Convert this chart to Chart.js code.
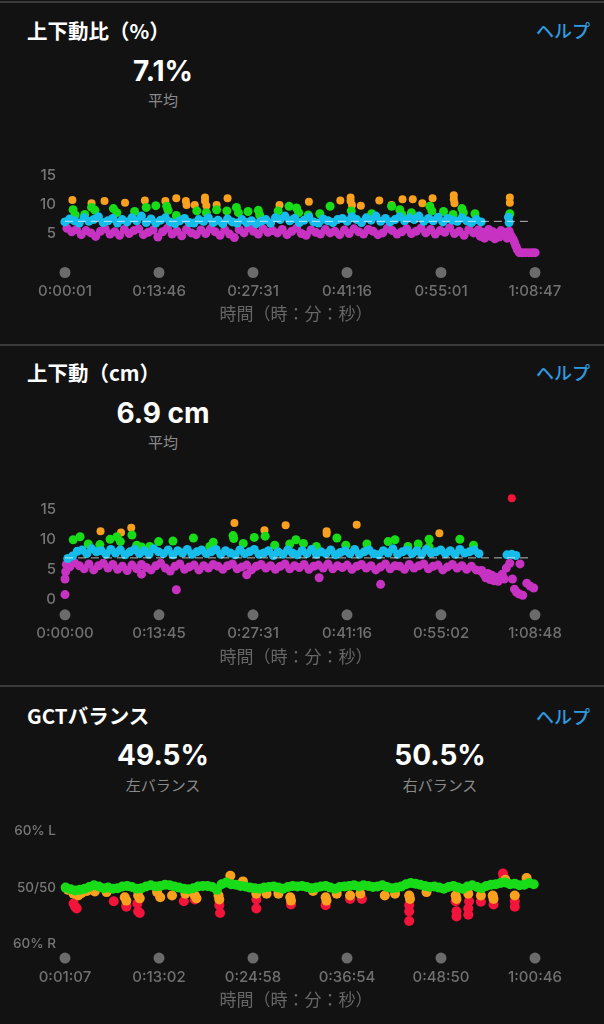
<!DOCTYPE html>
<html>
<head>
<meta charset="utf-8">
<script src="https://cdn.jsdelivr.net/npm/chart.js@4"></script>
<style>
  body { margin: 0; background: #121212; width: 604px; height: 1024px; position: relative; overflow: hidden;
         font-family: "Noto Sans CJK JP", sans-serif; }
  .sep { position: absolute; left: 0; width: 604px; height: 2px; background: #3a3a3a; }
  .title { position: absolute; left: 27px; transform: translateY(-50%); color: #fff; font-size: 20.5px; font-weight: 700; white-space: nowrap; }
  .help { position: absolute; right: 14px; transform: translateY(-50%); color: #2f9be0; font-size: 18px; font-weight: 500; }
  .big { position: absolute; transform: translate(-50%, -50%); color: #fff; font-family: Inter, sans-serif; font-size: 28px; font-weight: 700; white-space: nowrap; }
  .sub { position: absolute; transform: translate(-50%, -50%); color: #8a8a8a; font-size: 15px; white-space: nowrap; }
  .axt { position: absolute; left: 296px; transform: translate(-50%, -50%); color: #666; font-size: 17px; white-space: nowrap; }
  canvas { position: absolute; left: 0; }
</style>
</head>
<body>
<div class="sep" style="top:1px"></div>
<div class="sep" style="top:344px"></div>
<div class="sep" style="top:685px"></div>

<div class="title" style="top:30px">上下動比（%）</div>
<div class="help" style="top:30px">ヘルプ</div>
<div class="big" style="left:163px;top:71px">7.1%</div>
<div class="sub" style="left:163px;top:99px">平均</div>
<canvas id="chart-ratio" width="604" height="180" style="top:150px"></canvas>
<div class="axt" style="top:312px">時間（時：分：秒）</div>

<div class="title" style="top:372px">上下動（cm）</div>
<div class="help" style="top:372px">ヘルプ</div>
<div class="big" style="left:163px;top:413px">6.9 cm</div>
<div class="sub" style="left:163px;top:441px">平均</div>
<canvas id="chart-osc" width="604" height="200" style="top:470px"></canvas>
<div class="axt" style="top:655px">時間（時：分：秒）</div>

<div class="title" style="top:715px">GCTバランス</div>
<div class="help" style="top:716px">ヘルプ</div>
<div class="big" style="left:163px;top:755px">49.5%</div>
<div class="sub" style="left:163px;top:784px">左バランス</div>
<div class="big" style="left:440px;top:755px">50.5%</div>
<div class="sub" style="left:440px;top:784px">右バランス</div>
<canvas id="chart-gct" width="604" height="200" style="top:810px"></canvas>
<div class="axt" style="top:998px">時間（時：分：秒）</div>

<script>
// x values are minutes into the run

// --- 上下動比 (%) ---
const ratioTicks = ['0:00:01', '0:13:46', '0:27:31', '0:41:16', '0:55:01', '1:08:47'];
const ratioAvg = 7.1;
const ratioStep = 0.7;
const ratioCyan = [
  7.0,7.5,7.2,6.8,7.7,7.1,7.4,7.9,6.9,7.2,7.6,6.8,7.4,7.0,7.7,
  7.2,8.0,6.9,7.5,6.8,7.3,7.7,7.0,6.7,7.2,7.6,6.9,6.8,7.4,
  7.1,7.7,6.9,7.3,6.7,7.5,7.0,6.8,7.4,6.9,7.2,6.7,7.1,7.4,6.8,
  7.7,7.4,8.0,7.2,7.6,6.9,7.3,7.8,7.0,6.8,7.5,7.2,6.9,7.4,
  7.6,7.1,7.9,7.4,6.9,7.7,7.3,8.0,7.1,7.6,7.0,7.4,7.9,7.2,7.7,
  7.4,8.0,7.1,7.6,7.2,7.8,7.0,7.6,7.3,7.1,7.7,7.2,6.9,7.4,7.0
];
const ratioCyanExtra = [[64.9, 7.8], [65.0, 6.9]];
const ratioMagenta = [
  5.9,5.3,5.7,4.8,5.5,5.1,4.5,5.4,5.8,4.9,5.3,4.7,5.7,5.0,5.5,
  5.8,4.8,5.2,5.6,4.4,5.3,5.9,4.9,5.4,4.6,5.7,5.1,4.8,5.6,
  5.0,5.8,5.3,4.7,5.6,4.9,4.3,5.7,5.1,6.0,5.4,4.9,5.8,5.2,5.5,
  5.1,5.7,4.8,5.4,5.9,5.0,4.7,5.6,5.2,4.9,5.7,5.1,5.4,4.8,
  5.6,5.0,5.8,5.3,4.9,5.7,5.4,4.8,5.1,5.9,5.5,4.9,5.3,5.8,5.0,
  5.4,5.9,5.1,5.7,4.9,5.5,5.2,6.0,5.0,5.4,4.7,5.7,5.1,5.6
];
const ratioMagentaTail = [
  [60.5,5.6],[60.8,4.5],[61.1,5.2],[61.4,4.2],[61.7,5.0],[62.0,5.7],[62.3,4.5],[62.6,5.3],
  [62.9,4.1],[63.2,5.0],[63.5,4.4],[63.8,5.5],[64.1,4.7],[64.4,5.2],[64.7,4.2],[65.0,5.4],
  [65.3,4.6],[65.6,4.0],[65.8,3.4],[66.0,2.8],[66.2,2.2],[66.5,1.7],[66.9,1.7],[67.4,1.7],
  [67.9,1.7],[68.4,1.7],[68.8,1.7]
];
const ratioGreen = [
  [1.2,9.1],[1.5,8.2],[2.9,8.3],[3.9,9.5],[4.4,9.0],[7.1,9.3],[7.6,8.6],[10.2,8.8],[11.9,9.5],
  [13.3,9.8],[14.9,9.7],[15.1,9.0],[16.3,8.1],[19.3,8.9],[20.7,8.6],[22.2,9.1],[23.7,8.9],
  [25.1,9.5],[25.4,8.6],[26.8,8.8],[28.3,9.0],[28.5,8.2],[31.2,8.9],[32.8,9.7],[33.9,9.4],
  [34.2,8.6],[35.6,8.2],[37.3,8.4],[38.8,9.7],[41.9,8.9],[44.9,8.4],[47.8,9.7],[49.0,9.1],
  [49.3,8.3],[50.7,8.6],[53.4,9.7],[53.7,8.9],[55.4,8.8],[56.8,8.3],[58.1,9.3],[58.3,8.6],
  [60.0,8.4],[65.1,8.4]
];
const ratioOrange = [
  [1.1,10.8],[3.9,10.2],[5.8,10.6],[8.8,10.3],[11.7,10.7],[14.7,10.6],[16.3,11.1],[17.7,10.6],
  [17.8,9.9],[19.0,9.9],[20.5,11.2],[20.5,10.6],[20.7,9.8],[22.2,9.9],[23.8,11.1],[31.4,9.9],
  [35.7,10.5],[40.3,10.7],[41.8,11.2],[41.8,10.6],[42.0,9.9],[43.3,9.8],[46.0,10.7],[47.8,9.9],
  [49.4,10.9],[50.9,10.9],[52.3,10.2],[53.8,11.1],[56.9,11.6],[56.9,10.9],[57.0,10.2],
  [65.1,11.2],[65.1,10.3]
];

// --- 上下動 (cm) ---
const oscTicks = ['0:00:00', '0:13:45', '0:27:31', '0:41:16', '0:55:02', '1:08:48'];
const oscAvg = 6.9;
const oscStep = 0.7;
const oscCyan = [
  6.8,7.2,8.0,8.2,7.6,8.4,7.9,8.1,7.5,8.3,7.7,8.2,7.4,7.9,8.3,
  7.6,8.1,7.5,8.4,7.9,7.6,8.2,7.4,8.1,7.7,8.3,7.5,7.9,8.2,
  7.6,7.9,8.3,7.5,8.1,7.7,7.4,8.2,7.6,7.9,8.3,7.5,7.7,8.1,7.3,
  7.9,7.5,8.2,7.7,7.4,8.1,7.6,8.3,7.5,7.9,7.6,8.2,7.4,7.8,
  8.1,7.6,8.3,7.5,7.9,8.2,7.6,7.4,8.1,7.7,8.4,7.5,7.9,8.2,7.6,
  8.1,7.5,8.3,7.7,7.9,8.2,7.6,8.1,7.5,8.3,7.7,7.9,8.2,7.6
];
const oscCyanExtra = [[64.7, 7.4], [65.4, 7.5], [66.0, 7.3]];
const oscMagenta = [
  5.4,6.1,5.6,5.1,5.9,4.9,5.6,6.0,5.2,5.8,5.0,5.5,4.8,5.7,5.1,
  5.8,5.3,4.9,5.6,6.0,5.2,4.7,5.5,5.9,5.0,5.4,5.7,4.9,5.6,
  5.2,5.8,5.5,5.0,5.6,5.9,5.1,5.4,5.7,4.9,5.5,5.8,5.2,5.6,5.0,
  5.5,5.9,5.1,5.6,5.3,5.8,5.0,5.5,5.7,5.2,5.9,5.1,5.6,5.3,
  5.7,5.0,5.5,5.8,5.2,5.6,4.9,5.4,5.9,5.1,5.6,5.5,5.0,5.8,5.2,
  5.6,5.9,5.1,5.5,5.7,4.9,5.4,5.8,5.2,5.6,5.0,5.5,4.9,4.7
];
const oscMagentaExtra = [
  [0.0,0.8],[0.0,3.4],[0.1,4.6],[0.2,5.8],[11.2,4.2],[16.3,1.6],[26.6,4.1],[37.2,3.6],[46.2,2.5],
  [61.0,4.8],[61.3,4.2],[61.6,3.6],[61.9,4.3],[62.2,3.3],[62.5,4.0],[62.8,3.1],[63.1,3.7],
  [63.4,3.0],[63.7,3.6],[64.0,4.2],[64.3,3.4],[64.6,5.2],[65.1,6.0],[66.6,5.9],[65.5,3.4],
  [65.8,1.7],[66.1,1.2],[66.5,0.9],[67.0,0.7],[67.6,2.7],[68.1,2.2],[68.6,1.9]
];
const oscGreen = [
  [1.2,9.9],[2.2,10.4],[3.4,9.2],[5.1,9.1],[6.6,10.0],[7.6,10.4],[8.1,9.6],[9.8,10.7],[10.5,9.0],
  [11.2,8.7],[12.4,8.8],[13.7,9.6],[15.8,9.7],[18.8,10.2],[21.2,8.8],[21.7,9.5],[24.6,10.6],
  [24.7,10.1],[26.1,9.3],[27.7,10.3],[29.3,10.5],[30.7,9.0],[32.9,9.2],[33.8,9.9],[34.9,9.3],
  [36.8,8.8],[39.8,10.2],[41.1,9.0],[44.2,9.2],[47.3,9.6],[48.3,9.9],[50.2,8.8],[51.7,9.2],
  [53.3,10.0],[53.3,8.7],[57.8,10.0],[59.8,9.0]
];
const oscOrange = [
  [5.2,11.3],[8.2,11.1],[9.7,11.9],[24.8,12.7],[29.2,11.5],[32.3,12.3],[38.3,11.3],[38.3,10.9],
  [42.7,12.4],[54.8,11.0]
];
const oscRed = [[65.4, 16.8]];

// --- GCTバランス (left %) ---
const gctTicks = ['0:01:07', '0:13:02', '0:24:58', '0:36:54', '0:48:50', '1:00:46'];
const gctYTicks = [40, 50, 60];
const gctYLabels = ['60% R', '50/50', '60% L'];
const gctStep = 0.6;
const gctGreen = [
  50.0,49.7,49.5,49.6,49.8,50.1,50.4,50.2,49.9,50.0,
  49.8,49.9,50.2,50.3,50.1,49.8,49.9,50.2,50.4,50.2,
  50.3,50.5,50.4,50.2,50.0,49.8,49.7,49.9,50.2,50.3,
  50.3,50.1,49.6,50.6,50.9,50.6,50.5,50.3,50.2,50.0,
  49.9,49.8,50.0,50.1,50.2,50.0,49.8,50.1,50.3,50.2,
  50.3,50.1,49.9,50.0,50.2,50.3,50.0,49.8,50.1,50.2,
  50.3,50.4,50.2,50.4,50.3,50.1,50.2,50.4,50.1,49.9,
  50.0,50.2,50.6,50.8,50.7,50.5,50.3,50.1,50.2,50.0,
  49.8,50.1,50.3,50.0,49.8,50.2,50.4,50.1,49.9,50.3,
  50.5,50.6,50.8,50.9,50.6,50.7,50.4,50.5,50.8,50.6
];
const gctOrange = [
  [1.5,49.6],[2.2,48.9],[2.8,48.6],[3.2,49.0],[3.9,49.4],[4.9,49.3],[6.4,49.2],[8.7,48.3],
  [8.9,47.7],[10.4,48.6],[10.6,48.1],[12.8,49.2],[13.2,48.3],[14.7,48.6],[16.4,48.9],[17.6,48.6],
  [17.8,48.1],[20.6,48.6],[20.7,47.9],[22.1,52.1],[23.7,51.1],[25.4,48.9],[26.7,48.9],[28.2,48.9],
  [29.7,48.3],[29.8,47.7],[32.6,49.4],[34.2,48.3],[34.3,47.7],[35.6,48.9],[37.3,48.6],[38.6,48.9],
  [41.7,48.6],[43.0,48.9],[44.8,48.6],[44.9,48.0],[47.0,49.2],[50.7,48.6],[50.8,48.0],[52.3,48.9],
  [53.9,48.6],[55.4,48.6],[55.5,48.0],[57.0,51.4],[58.2,48.6],[59.7,51.7]
];
const gctRed = [
  [2.2,47.2],[2.4,46.6],[2.6,46.3],[7.3,47.6],[8.9,46.9],[8.9,46.6],[10.3,47.2],[10.4,45.8],
  [10.6,45.5],[16.2,47.6],[17.6,47.9],[20.7,46.9],[20.8,45.5],[25.4,47.9],[25.4,46.3],[29.8,47.0],
  [34.2,46.9],[37.3,48.0],[38.8,48.0],[44.8,46.9],[44.8,45.8],[44.8,44.1],[50.7,47.6],[50.8,45.8],
  [50.8,44.9],[52.4,47.6],[52.3,46.3],[52.3,45.2],[53.9,47.5],[55.5,47.0],[56.7,52.5],[56.8,52.0],
  [58.2,47.6],[58.2,46.6]
];

const COLORS = {
  cyan: '#16bdea', magenta: '#c832c2', green: '#19dc19', orange: '#f9a11e', red: '#f3143c'
};

const pts = pairs => pairs.map(([x, y]) => ({ x, y }));
const band = (t0, dt, vals) => vals.map((y, i) => ({ x: t0 + i * dt, y }));

function dots(data, color, order, r = 4.5) {
  return { data, backgroundColor: color, borderWidth: 0, pointRadius: r, pointHoverRadius: r, order, clip: false };
}

function avgLine(v, x0, x1) {
  return {
    type: 'line', data: [{ x: x0, y: v }, { x: x1, y: v }],
    borderColor: 'rgba(255,255,255,0.7)', borderWidth: 1, borderDash: [8, 5],
    pointRadius: 0, order: 0
  };
}

// gray circles sitting under each time tick
const tickDots = {
  id: 'tickDots',
  afterDraw(chart) {
    const { ctx, chartArea, scales: { x } } = chart;
    ctx.save();
    ctx.fillStyle = '#6b6b6b';
    x.ticks.forEach(t => {
      ctx.beginPath();
      ctx.arc(x.getPixelForValue(t.value), chartArea.bottom + 10, 5.5, 0, Math.PI * 2);
      ctx.fill();
    });
    ctx.restore();
  }
};

function buildChart(id, cfg) {
  const tickFont = { family: "Inter, sans-serif", size: 15, weight: 500 };
  return new Chart(document.getElementById(id), {
    type: 'scatter',
    data: { datasets: cfg.datasets },
    options: {
      responsive: false,
      animation: false,
      events: [],
      layout: { padding: { left: 0, right: 69, top: cfg.padTop, bottom: 0 } },
      plugins: { legend: { display: false }, tooltip: { enabled: false } },
      scales: {
        x: {
          type: 'linear', min: cfg.xMin, max: cfg.xMax,
          grid: { display: false, drawTicks: false }, border: { display: false },
          afterBuildTicks: s => {
            const n = cfg.xLabels.length - 1;
            s.ticks = cfg.xLabels.map((l, k) => ({ value: cfg.xMin + (cfg.xMax - cfg.xMin) * k / n }));
          },
          afterFit: s => { s.height = cfg.axisH; },
          ticks: {
            color: '#707070', font: tickFont, padding: 20, maxRotation: 0, autoSkip: false,
            callback: (v, i) => cfg.xLabels[i]
          }
        },
        y: {
          min: cfg.yMin, max: cfg.yMax,
          grid: { display: false, drawTicks: false }, border: { display: false },
          afterBuildTicks: s => { s.ticks = cfg.yTicks.map(v => ({ value: v })); },
          afterFit: s => { s.width = 65; },
          ticks: {
            color: '#777', font: { family: "Inter, sans-serif", size: cfg.yFontSize || 15, weight: 500 }, padding: 9,
            callback: (v, i) => cfg.yLabels[i]
          }
        }
      }
    },
    plugins: [tickDots]
  });
}

buildChart('chart-ratio', {
  xMin: 1 / 60, xMax: 4127 / 60, xLabels: ratioTicks,
  yMin: 0, yMax: 16.3, yTicks: [5, 10, 15], yLabels: ['5', '10', '15'],
  padTop: 10, axisH: 67.5,
  datasets: [
    avgLine(ratioAvg, 0, 67.9),
    dots(band(0, ratioStep, ratioCyan).concat(pts(ratioCyanExtra)), COLORS.cyan, 1),
    dots(pts(ratioGreen), COLORS.green, 2),
    dots(pts(ratioOrange), COLORS.orange, 3, 4),
    dots(band(0.3, ratioStep, ratioMagenta).concat(pts(ratioMagentaTail)), COLORS.magenta, 4)
  ]
});

buildChart('chart-osc', {
  xMin: 0, xMax: 68.8, xLabels: oscTicks,
  yMin: -0.9, yMax: 18.5, yTicks: [0, 5, 10, 15], yLabels: ['0', '5', '10', '15'],
  padTop: 8.75, axisH: 65.15,
  datasets: [
    avgLine(oscAvg, 0, 67.9),
    dots(band(0.4, oscStep, oscCyan).concat(pts(oscCyanExtra)), COLORS.cyan, 1),
    dots(pts(oscGreen), COLORS.green, 2),
    dots(pts(oscOrange), COLORS.orange, 3, 4),
    dots(band(0.7, oscStep, oscMagenta).concat(pts(oscMagentaExtra)), COLORS.magenta, 4),
    dots(pts(oscRed), COLORS.red, 5, 4)
  ]
});

buildChart('chart-gct', {
  xMin: 67 / 60, xMax: 3646 / 60, xLabels: gctTicks,
  yMin: 39.3, yMax: 60.7, yTicks: gctYTicks, yLabels: gctYLabels, yFontSize: 13.5,
  padTop: 11.84, axisH: 61.9,
  datasets: [
    dots(band(1.2, gctStep, gctGreen), COLORS.green, 1, 5),
    dots(pts(gctOrange), COLORS.orange, 2, 5),
    dots(pts(gctRed), COLORS.red, 3, 5)
  ]
});
</script>
</body>
</html>
